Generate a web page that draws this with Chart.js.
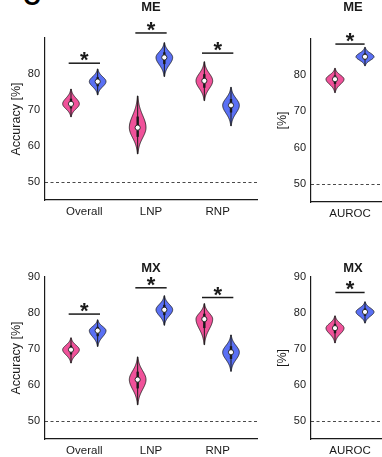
<!DOCTYPE html>
<html><head><meta charset="utf-8">
<script src="https://cdn.jsdelivr.net/npm/chart.js@4/dist/chart.umd.min.js"></script>
<style>
html,body{margin:0;padding:0;background:#fff;width:382px;height:457px;overflow:hidden;position:relative}
canvas{position:absolute}
#lbl{position:absolute;left:23px;top:-15px;font:bold 24px "Liberation Sans",Arial,sans-serif;line-height:24px;color:#000}
</style></head><body>
<div id="lbl">C</div>
<canvas id="c1" width="262" height="225" style="left:0;top:0"></canvas>
<canvas id="c2" width="140" height="225" style="left:262px;top:0"></canvas>
<canvas id="c3" width="262" height="227" style="left:0;top:230px"></canvas>
<canvas id="c4" width="140" height="227" style="left:262px;top:230px"></canvas>
<script>
// ---------- data ----------
const categories = ['Overall', 'LNP', 'RNP'];
const aucCategories = ['AUROC'];
const topTicks = [50, 60, 70, 80];
const bottomTicks = [50, 60, 70, 80, 90];
const chanceLevel = 50;

// ME (top row)
const meMedPink = [71.7, 65.1, 78.1];
const meMinPink = [68.1, 57.8, 72.6];
const meMaxPink = [75.8, 73.9, 83.4];
const meMedBlue = [77.9, 84.6, 71.3];
const meMinBlue = [74.2, 79.3, 65.6];
const meMaxBlue = [81.4, 88.7, 76.3];
const meSig = [83.0, 91.4, 85.8];
const meAucMedPink = [78.9];
const meAucMinPink = [75.2];
const meAucMaxPink = [81.9];
const meAucMedBlue = [85.1];
const meAucMinBlue = [82.6];
const meAucMaxBlue = [87.7];
const meAucSig = [88.6];

// MX (bottom row)
const mxMedPink = [69.8, 61.5, 78.3];
const mxMinPink = [66.1, 54.5, 71.2];
const mxMaxPink = [73.1, 67.8, 82.6];
const mxMedBlue = [75.1, 80.9, 69.1];
const mxMinBlue = [70.7, 76.6, 63.8];
const mxMaxBlue = [78.1, 84.8, 73.9];
const mxSig = [79.7, 87.0, 84.3];
const mxAucMedPink = [75.8];
const mxAucMinPink = [71.7];
const mxAucMaxPink = [79.2];
const mxAucMedBlue = [80.3];
const mxAucMinBlue = [77.2];
const mxAucMaxBlue = [83.1];
const mxAucSig = [85.7];

// ---------- style ----------
const FONT = '"Liberation Sans", Arial, sans-serif';
const PINK = '#f0529a';
const BLUE = '#5a70f4';
const INK = '#1a1a1a';

function drawViolin(ctx, xc, halfW, y, vmin, med, vmax, color) {
  const n = 60;
  const pts = [];
  for (let k = 0; k <= n; k++) {
    const v = vmin + (vmax - vmin) * k / n;
    const t = v < med ? (med - v) / (med - vmin) : (v - med) / (vmax - med);
    const w = halfW * Math.exp(-0.5 * Math.pow(t * 2.6, 2));
    pts.push([y.getPixelForValue(v), w]);
  }
  ctx.beginPath();
  pts.forEach((p, k) => { k ? ctx.lineTo(xc + p[1], p[0]) : ctx.moveTo(xc + p[1], p[0]); });
  for (let k = pts.length - 1; k >= 0; k--) ctx.lineTo(xc - pts[k][1], pts[k][0]);
  ctx.closePath();
  ctx.fillStyle = color;
  ctx.fill();
  ctx.strokeStyle = INK;
  ctx.lineWidth = 0.8;
  ctx.stroke();
  // whisker
  ctx.beginPath();
  ctx.lineWidth = 1;
  ctx.moveTo(xc, y.getPixelForValue(vmin));
  ctx.lineTo(xc, y.getPixelForValue(vmax));
  ctx.stroke();
  // box
  ctx.beginPath();
  ctx.lineWidth = 2.4;
  ctx.moveTo(xc, y.getPixelForValue(med - 0.35 * (med - vmin)));
  ctx.lineTo(xc, y.getPixelForValue(med + 0.35 * (vmax - med)));
  ctx.stroke();
}

const violinPlugin = {
  id: 'violins',
  beforeDatasetsDraw(chart, args, o) {
    const { ctx, chartArea, scales: { x, y } } = chart;
    ctx.save();
    ctx.strokeStyle = INK;
    ctx.lineWidth = 0.8;
    ctx.setLineDash([3, 2.5]);
    const yc = Math.round(y.getPixelForValue(o.chance)) + 0.5;
    ctx.beginPath(); ctx.moveTo(chartArea.left, yc); ctx.lineTo(chartArea.right, yc); ctx.stroke();
    ctx.setLineDash([]);
    const halfW = x.getPixelForValue(o.halfW) - x.getPixelForValue(0);
    o.groups.forEach(g => {
      g.med.forEach((m, i) => {
        const xc = x.getPixelForValue(i + 1 + g.off);
        drawViolin(ctx, xc, halfW, y, g.min[i], m, g.max[i], g.color);
      });
    });
    ctx.restore();
  },
  afterDraw(chart, args, o) {
    const { ctx, scales: { x, y } } = chart;
    ctx.save();
    ctx.strokeStyle = INK;
    ctx.fillStyle = INK;
    ctx.lineWidth = 1.5;
    o.sig.forEach((s, i) => {
      const yy = y.getPixelForValue(s);
      const x0 = x.getPixelForValue(i + 1 - o.sigHalf);
      const x1 = x.getPixelForValue(i + 1 + o.sigHalf);
      ctx.beginPath(); ctx.moveTo(x0, yy); ctx.lineTo(x1, yy); ctx.stroke();
      ctx.font = 'bold 22px ' + FONT;
      ctx.textAlign = 'center';
      ctx.textBaseline = 'alphabetic';
      const m = ctx.measureText('*');
      const cy = yy - 6.5;
      const base = cy + (m.actualBoundingBoxAscent - m.actualBoundingBoxDescent) / 2;
      ctx.fillText('*', (x0 + x1) / 2, base);
    });
    ctx.font = 'bold 13px ' + FONT;
    ctx.textAlign = 'center';
    ctx.textBaseline = 'middle';
    ctx.fillText(o.title, x.getPixelForValue(o.titleAt), o.titleY);
    ctx.restore();
  }
};

function makePanel(id, p) {
  const canvas = document.getElementById(id);
  const H = canvas.height;
  const groups = [
    { med: p.pink[0], min: p.pink[1], max: p.pink[2], color: PINK, off: -p.off },
    { med: p.blue[0], min: p.blue[1], max: p.blue[2], color: BLUE, off: p.off }
  ];
  const datasets = groups.map(g => ({
    type: 'scatter',
    data: g.med.map((m, i) => ({ x: i + 1 + g.off, y: m })),
    pointRadius: 2.6,
    pointBackgroundColor: '#ffffff',
    pointBorderColor: INK,
    pointBorderWidth: 0.9,
    clip: false
  }));
  new Chart(canvas, {
    type: 'scatter',
    data: { datasets },
    options: {
      responsive: false,
      animation: false,
      events: [],
      layout: { padding: { top: p.padTop, right: p.padRight, left: 0, bottom: 0 } },
      plugins: {
        legend: { display: false },
        tooltip: { enabled: false },
        violins: {
          chance: chanceLevel, halfW: p.halfW, groups, sig: p.sig, sigHalf: p.sigHalf,
          title: p.title, titleAt: p.titleAt, titleY: p.titleY
        }
      },
      scales: {
        x: {
          type: 'linear', min: p.xMin, max: p.xMax,
          grid: { display: false, drawTicks: false },
          border: { display: true, color: INK, width: 1.2 },
          afterBuildTicks: s => { s.ticks = p.cats.map((c, i) => ({ value: i + 1 })); },
          afterFit: s => { s.height = H - p.bottom; },
          ticks: {
            autoSkip: false, maxRotation: 0, padding: 5, color: INK,
            font: { family: FONT, size: 11.5 },
            callback: v => p.cats[Math.round(v) - 1]
          }
        },
        y: {
          type: 'linear', min: 45, max: 90,
          grid: { display: false, drawTicks: false },
          border: { display: true, color: INK, width: 1.2 },
          afterBuildTicks: s => { s.ticks = p.ticks.map(v => ({ value: v })); },
          afterFit: s => { s.width = p.yWidth; },
          ticks: { padding: 5, color: INK, font: { family: FONT, size: 11 } },
          title: {
            display: true, text: p.yTitle, color: INK,
            font: { family: FONT, size: 12.5 }, padding: { top: p.yTitlePad, bottom: 0 }
          }
        }
      }
    },
    plugins: [violinPlugin]
  });
}

makePanel('c1', {
  cats: categories, xMin: 0.41, xMax: 3.59, ticks: topTicks, yTitle: 'Accuracy [%]',
  pink: [meMedPink, meMinPink, meMaxPink], blue: [meMedBlue, meMinBlue, meMaxBlue],
  sig: meSig, off: 0.2, halfW: 0.125, sigHalf: 0.235,
  title: 'ME', titleAt: 2, titleY: 7,
  padTop: 38, padRight: 5, bottom: 200, yWidth: 45, yTitlePad: 9.5
});
makePanel('c2', {
  cats: aucCategories, xMin: 0.48, xMax: 1.52, ticks: topTicks, yTitle: '[%]',
  pink: [meAucMedPink, meAucMinPink, meAucMaxPink], blue: [meAucMedBlue, meAucMinBlue, meAucMaxBlue],
  sig: meAucSig, off: 0.2, halfW: 0.12, sigHalf: 0.195,
  title: 'ME', titleAt: 1.04, titleY: 7,
  padTop: 39, padRight: 13, bottom: 202, yWidth: 49, yTitlePad: 13.5
});
makePanel('c3', {
  cats: categories, xMin: 0.41, xMax: 3.59, ticks: bottomTicks, yTitle: 'Accuracy [%]',
  pink: [mxMedPink, mxMinPink, mxMaxPink], blue: [mxMedBlue, mxMinBlue, mxMaxBlue],
  sig: mxSig, off: 0.2, halfW: 0.125, sigHalf: 0.235,
  title: 'MX', titleAt: 2, titleY: 38,
  padTop: 47, padRight: 5, bottom: 209, yWidth: 45, yTitlePad: 9.5
});
makePanel('c4', {
  cats: aucCategories, xMin: 0.48, xMax: 1.52, ticks: bottomTicks, yTitle: '[%]',
  pink: [mxAucMedPink, mxAucMinPink, mxAucMaxPink], blue: [mxAucMedBlue, mxAucMinBlue, mxAucMaxBlue],
  sig: mxAucSig, off: 0.2, halfW: 0.12, sigHalf: 0.195,
  title: 'MX', titleAt: 1.04, titleY: 38,
  padTop: 47, padRight: 13, bottom: 209, yWidth: 49, yTitlePad: 13.5
});
</script>
</body></html>
